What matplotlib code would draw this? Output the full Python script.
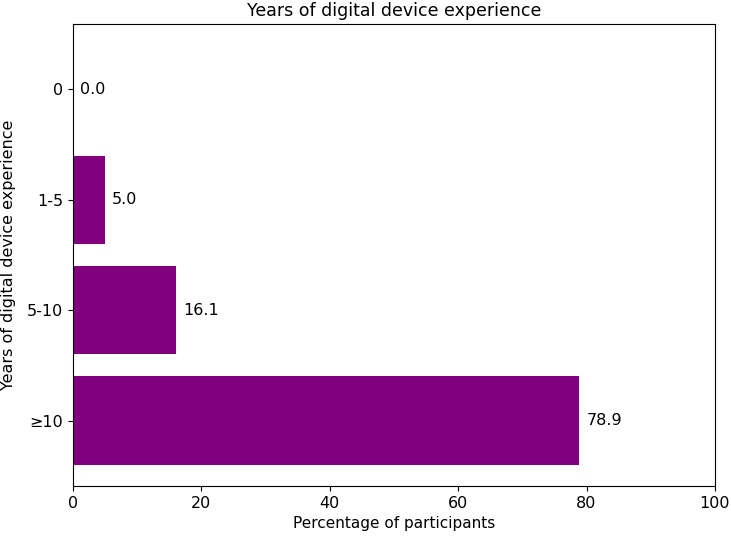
import matplotlib
matplotlib.use("Agg")
import matplotlib.pyplot as plt

# categories from bottom to top
categories = ["≥10", "5-10", "1-5", "0"]
percentages = [78.9, 16.1, 5.0, 0.0]

fig, ax = plt.subplots(figsize=(7.31, 5.38), dpi=100)
fig.subplots_adjust(left=0.1, right=0.978, top=0.955, bottom=0.097)

bars = ax.barh(categories, percentages, color="purple")
ax.bar_label(bars, labels=[f"{v:.1f}" for v in percentages], padding=5, fontsize=11.5)

ax.set_xlim(0, 100)
ax.set_xlabel("Percentage of participants", fontsize=11)
ax.set_ylabel("Years of digital device experience", fontsize=11.5, labelpad=8)
ax.set_title("Years of digital device experience", fontsize=12.5)
ax.tick_params(labelsize=11.5)

fig.savefig("out.png", dpi=100)
